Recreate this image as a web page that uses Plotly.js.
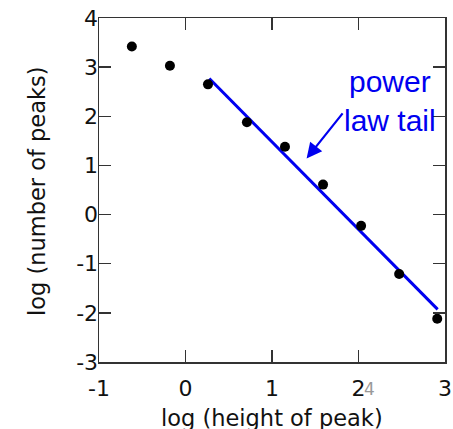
<!DOCTYPE html>
<html>
<head>
<meta charset="utf-8">
<script src="https://cdn.plot.ly/plotly-3.0.1.min.js"></script>
<style>html,body{margin:0;padding:0;background:#fff;}#chart{width:453px;height:429px;}</style>
</head>
<body>
<div id="chart"></div>
<script>
// data
var logHeight = [-0.62, -0.18, 0.26, 0.71, 1.15, 1.59, 2.03, 2.47, 2.91];
var logCount  = [3.42, 3.03, 2.65, 1.88, 1.38, 0.61, -0.23, -1.21, -2.12];
var fitX = [0.275, 2.915];
var fitY = [2.77, -1.93];
var xTicks = [-1, 0, 1, 2, 3];
var yTicks = [-3, -2, -1, 0, 1, 2, 3, 4];
var xTitle = 'log (height of peak)';
var yTitle = 'log (number of peaks)';
var noteText = 'power<br>law tail';
var pageNumber = '4';

var axisFont = {family: 'DejaVu Sans, sans-serif', size: 22, color: '#111'};
var titleFont = {family: 'DejaVu Sans, sans-serif', size: 22.5, color: '#111'};

var traces = [
  {x: fitX, y: fitY, mode: 'lines', line: {color: '#0000f0', width: 3}, hoverinfo: 'skip'},
  {x: logHeight, y: logCount, mode: 'markers', marker: {color: '#000', size: 10}}
];

var axisCommon = {
  showline: true, linecolor: '#333', linewidth: 1.5, mirror: 'ticks',
  ticks: 'inside', ticklen: 12, tickwidth: 1.5, tickcolor: '#333',
  showgrid: false, zeroline: false, tickfont: axisFont, tickmode: 'array'
};

// pixel helpers for text placed in the margins (plot area: x 99..445, y 18..362)
function px(x) { return (x - 99) / 346; }
function py(y) { return (362 - y) / 344; }

var layout = {
  width: 453, height: 429,
  margin: {l: 99, r: 8, t: 18, b: 67},
  paper_bgcolor: '#fff', plot_bgcolor: '#fff',
  showlegend: false,
  xaxis: Object.assign({}, axisCommon, {
    range: [-1, 3], tickvals: xTicks, ticktext: xTicks.map(String),
    ticklabelstandoff: 6
  }),
  yaxis: Object.assign({}, axisCommon, {
    range: [-3, 4], tickvals: yTicks, ticktext: yTicks.map(String),
    ticklabelstandoff: -5
  }),
  annotations: [
    {x: 2.36, y: 2.31, xref: 'x', yref: 'y', text: noteText, showarrow: false,
     font: {family: 'Liberation Sans, Arial, sans-serif', size: 30, color: '#0000f0'},
     xanchor: 'center', yanchor: 'middle'},
    {x: 1.40, y: 1.14, xref: 'x', yref: 'y', ax: 1.83, ay: 2.09, axref: 'x', ayref: 'y',
     text: '', showarrow: true, arrowhead: 2, arrowsize: 1.4, arrowwidth: 2.2, arrowcolor: '#0000f0'},
    {x: px(377), y: py(401), xref: 'paper', yref: 'paper', text: pageNumber, showarrow: false,
     font: {family: 'DejaVu Sans, sans-serif', size: 17, color: '#999'}},
    {x: px(272), y: py(418), xref: 'paper', yref: 'paper', text: xTitle, showarrow: false,
     font: titleFont, xanchor: 'center', yanchor: 'middle'},
    {x: px(37), y: py(192), xref: 'paper', yref: 'paper', text: yTitle, showarrow: false,
     font: titleFont, textangle: -90, xanchor: 'center', yanchor: 'middle'}
  ]
};

Plotly.newPlot('chart', traces, layout, {displayModeBar: false, staticPlot: true});
</script>
</body>
</html>
